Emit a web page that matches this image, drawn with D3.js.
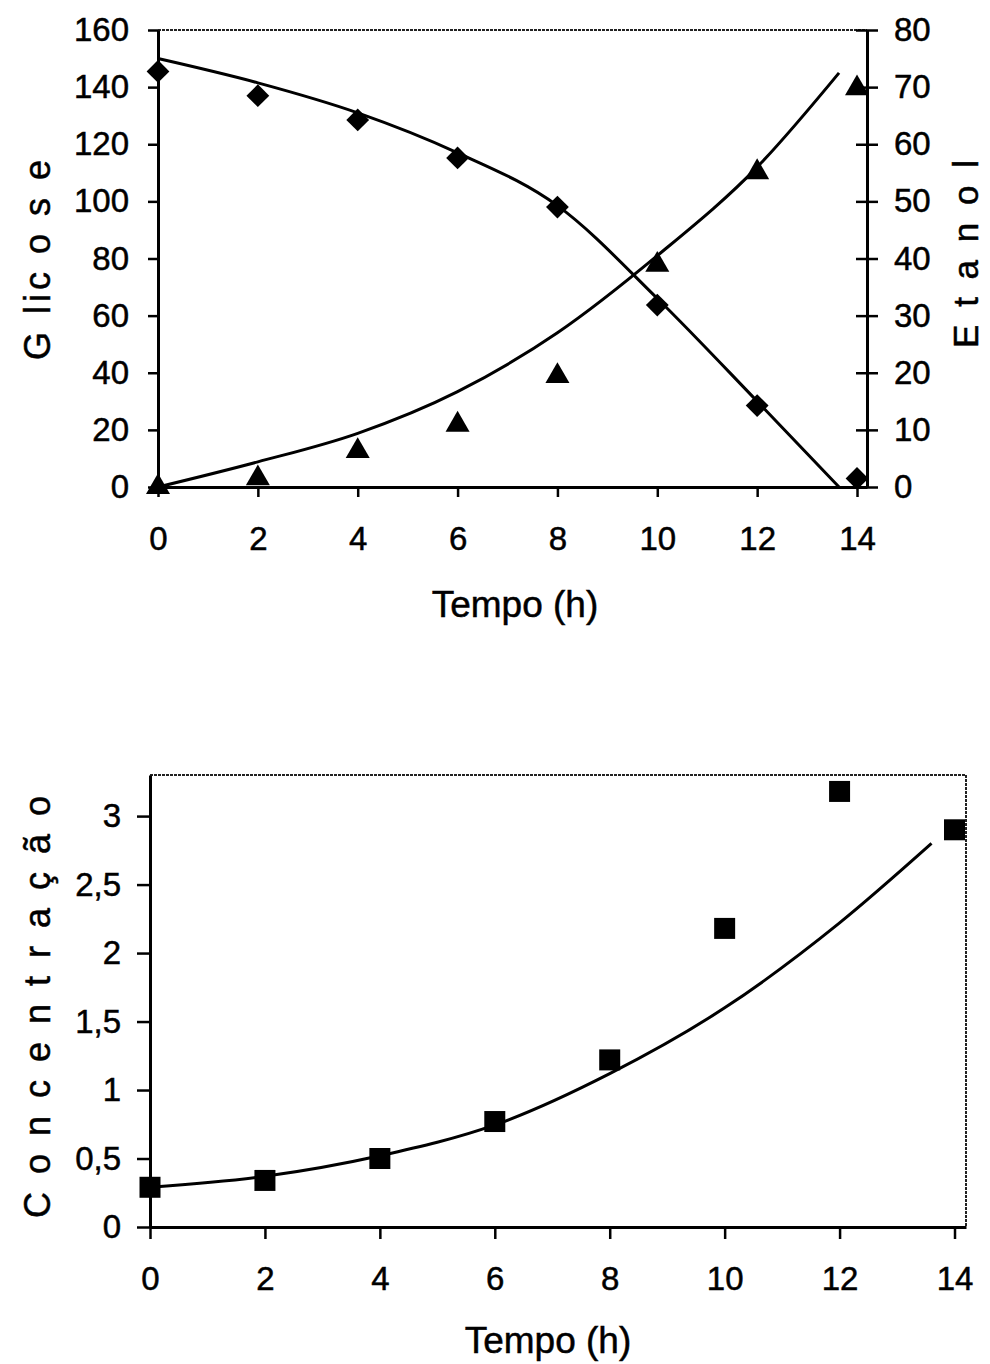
<!DOCTYPE html>
<html>
<head>
<meta charset="utf-8">
<script src="https://cdn.jsdelivr.net/npm/d3@7"></script>
<style>
    body { margin: 0; background: #fff; }
    text { font-family: "Liberation Sans", Arial, sans-serif; fill: #000; stroke: #000; stroke-width: 0.5; }
</style>
</head>
<body>
<div id="chart-area"></div>
<script>
// measured points (h)
const hours = [0, 2, 4, 6, 8, 10, 12, 14];
const glicose = [145.5, 137, 128.5, 115.2, 98, 63.7, 28.5, 3];
const etanol = [0, 1.5, 6.3, 10.9, 19.4, 38.9, 55.1, 69.8];
const biomassa = [0.29, 0.34, 0.5, 0.77, 1.22, 2.18, 3.18, 2.9];

// model curves
const fitHours = [0, 2, 4, 6, 8, 10, 12, 13.64];
const glicoseFit = [150, 141.5, 131, 117, 98.5, 66, 30, 0];
const etanolFit = [0, 4.4, 9.4, 16.7, 27, 40.5, 56, 72.5];
const fitHoursB = [0, 2, 4, 6, 8, 10, 12, 13.6];
const biomassaFit = [0.29, 0.37, 0.52, 0.745, 1.12, 1.6, 2.22, 2.8];

// tick labels
const xTicks = [0, 2, 4, 6, 8, 10, 12, 14];
const glicoseTicks = [0, 20, 40, 60, 80, 100, 120, 140, 160];
const etanolTicks = [0, 10, 20, 30, 40, 50, 60, 70, 80];
const biomassaTicks = [0, 0.5, 1, 1.5, 2, 2.5, 3];

let svg = d3.select("#chart-area")
    .append("svg")
    .attr("width", 990)
    .attr("height", 1364);

// decimal comma, as in the original
let comma = function(d) { return String(d).replace(".", ","); };

function styleAxis(g, fontSize) {
    g.select(".domain").attr("stroke", "#000").attr("stroke-width", 3);
    g.selectAll(".tick line").attr("stroke", "#000").attr("stroke-width", 2.5);
    g.selectAll(".tick text")
        .attr("font-size", fontSize)
        .attr("font-family", "Liberation Sans, Arial, sans-serif")
        .attr("fill", "#000");
}

// ---------- top chart ----------
let x1 = d3.scaleLinear().domain([0, 14.2]).range([158, 867]);
let yG = d3.scaleLinear().domain([0, 160]).range([487, 30]);
let yE = d3.scaleLinear().domain([0, 80]).range([487, 30]);

// dotted top border
svg.append("line")
    .attr("x1", x1.range()[0]).attr("x2", x1.range()[1])
    .attr("y1", 30).attr("y2", 30)
    .attr("stroke", "#222").attr("stroke-width", 2)
    .attr("stroke-dasharray", "3,1");

svg.append("g")
    .attr("transform", "translate(0,487)")
    .call(d3.axisBottom(x1).tickValues(xTicks).tickSize(10).tickSizeOuter(0).tickPadding(30))
    .call(styleAxis, 33);

svg.append("g")
    .attr("transform", "translate(158,0)")
    .call(d3.axisLeft(yG).tickValues(glicoseTicks).tickSize(10).tickSizeOuter(0).tickPadding(19))
    .call(styleAxis, 33);

let rightAxis = svg.append("g")
    .attr("transform", "translate(867,0)")
    .call(d3.axisRight(yE).tickValues(etanolTicks).tickSize(11).tickSizeOuter(0).tickPadding(16))
    .call(styleAxis, 33);
rightAxis.selectAll(".tick line").attr("x1", -11);

let lineG = d3.line()
    .x(function(d, i) { return x1(fitHours[i]); })
    .y(function(d) { return yG(d); })
    .curve(d3.curveMonotoneX);
let lineE = d3.line()
    .x(function(d, i) { return x1(fitHours[i]); })
    .y(function(d) { return yE(d); })
    .curve(d3.curveMonotoneX);

svg.append("path").datum(glicoseFit)
    .attr("d", lineG).attr("fill", "none").attr("stroke", "#000").attr("stroke-width", 3);
svg.append("path").datum(etanolFit)
    .attr("d", lineE).attr("fill", "none").attr("stroke", "#000").attr("stroke-width", 3);

svg.selectAll(".diamond").data(glicose)
    .enter().append("path")
    .attr("class", "diamond")
    .attr("d", d3.symbol().type(d3.symbolSquare).size(260))
    .attr("transform", function(d, i) {
        return "translate(" + x1(hours[i]) + "," + yG(d) + ") rotate(45)";
    })
    .attr("fill", "#000");

svg.selectAll(".triangle").data(etanol)
    .enter().append("path")
    .attr("class", "triangle")
    .attr("d", d3.symbol().type(d3.symbolTriangle).size(250))
    .attr("transform", function(d, i) {
        return "translate(" + x1(hours[i]) + "," + yE(d) + ")";
    })
    .attr("fill", "#000");

svg.append("text")
    .attr("transform", "translate(515,617)")
    .attr("text-anchor", "middle")
    .attr("font-size", 37)
    .text("Tempo (h)");

svg.append("text")
    .attr("transform", "translate(50,258) rotate(-90)")
    .attr("text-anchor", "middle")
    .attr("font-size", 36)
    .attr("letter-spacing", 4)
    .text("G lic o s e");

svg.append("text")
    .attr("transform", "translate(978,252) rotate(-90)")
    .attr("text-anchor", "middle")
    .attr("font-size", 35)
    .attr("letter-spacing", 4)
    .text("E t a n o l");

// ---------- bottom chart ----------
let x2 = d3.scaleLinear().domain([0, 14.2]).range([150, 966]);
let yB = d3.scaleLinear().domain([0, 3.3]).range([1227, 775]);

// dotted frame top + right
svg.append("path")
    .attr("d", "M" + x2.range()[0] + "," + yB.range()[1] +
        "H" + x2.range()[1] + "V" + yB.range()[0])
    .attr("fill", "none")
    .attr("stroke", "#222").attr("stroke-width", 2)
    .attr("stroke-dasharray", "3,1");

svg.append("g")
    .attr("transform", "translate(0,1227)")
    .call(d3.axisBottom(x2).tickValues(xTicks).tickSize(12).tickSizeOuter(0).tickPadding(28))
    .call(styleAxis, 33);

svg.append("g")
    .attr("transform", "translate(150,0)")
    .call(d3.axisLeft(yB).tickValues(biomassaTicks).tickFormat(comma)
        .tickSize(13).tickSizeOuter(0).tickPadding(16))
    .call(styleAxis, 33);

let lineB = d3.line()
    .x(function(d, i) { return x2(fitHoursB[i]); })
    .y(function(d) { return yB(d); })
    .curve(d3.curveMonotoneX);

svg.append("path").datum(biomassaFit)
    .attr("d", lineB).attr("fill", "none").attr("stroke", "#000").attr("stroke-width", 3);

svg.selectAll(".square").data(biomassa)
    .enter().append("path")
    .attr("class", "square")
    .attr("d", d3.symbol().type(d3.symbolSquare).size(441))
    .attr("transform", function(d, i) {
        return "translate(" + x2(hours[i]) + "," + yB(d) + ")";
    })
    .attr("fill", "#000");

svg.append("text")
    .attr("transform", "translate(548,1353)")
    .attr("text-anchor", "middle")
    .attr("font-size", 37)
    .text("Tempo (h)");

svg.append("text")
    .attr("transform", "translate(50,1005) rotate(-90)")
    .attr("text-anchor", "middle")
    .attr("font-size", 36)
    .attr("letter-spacing", 4)
    .text("C o n c e n t r a ç ã o");
</script>
</body>
</html>
